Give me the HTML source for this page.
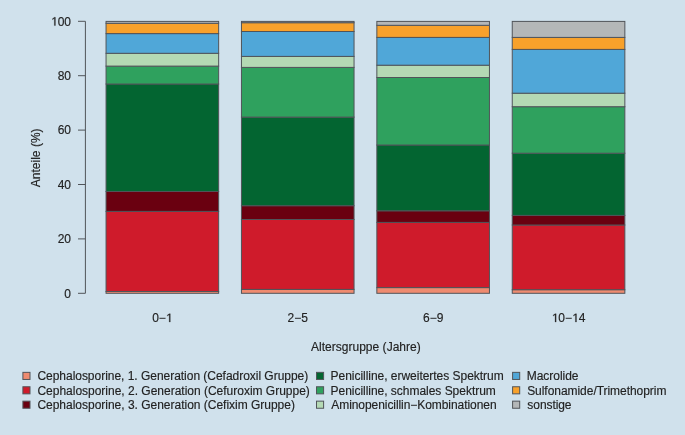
<!DOCTYPE html>
<html><head><meta charset="utf-8"><style>
html,body{margin:0;padding:0;background:#d0e1ec;}
svg{display:block;will-change:transform;}
text{font-family:"Liberation Sans",sans-serif;font-size:12px;fill:#222222;stroke:#222222;stroke-width:0.15px;}
</style></head><body>
<svg width="685" height="435" viewBox="0 0 685 435">
<rect x="0" y="0" width="685" height="435" fill="#d0e1ec"/>
<rect x="106.05" y="291.50" width="112.60" height="1.80" fill="#ef8b70" stroke="#505459" stroke-width="1"/>
<rect x="106.05" y="211.40" width="112.60" height="80.10" fill="#cf1b2b" stroke="#505459" stroke-width="1"/>
<rect x="106.05" y="191.50" width="112.60" height="19.90" fill="#6a0010" stroke="#505459" stroke-width="1"/>
<rect x="106.05" y="84.00" width="112.60" height="107.50" fill="#036531" stroke="#505459" stroke-width="1"/>
<rect x="106.05" y="66.10" width="112.60" height="17.90" fill="#2fa15e" stroke="#505459" stroke-width="1"/>
<rect x="106.05" y="53.30" width="112.60" height="12.80" fill="#b4d9b4" stroke="#505459" stroke-width="1"/>
<rect x="106.05" y="33.60" width="112.60" height="19.70" fill="#50a7d8" stroke="#505459" stroke-width="1"/>
<rect x="106.05" y="23.30" width="112.60" height="10.30" fill="#f8a12b" stroke="#505459" stroke-width="1"/>
<rect x="106.05" y="21.40" width="112.60" height="1.90" fill="#b4b7b8" stroke="#505459" stroke-width="1"/>
<rect x="241.45" y="289.40" width="112.60" height="3.90" fill="#ef8b70" stroke="#505459" stroke-width="1"/>
<rect x="241.45" y="219.50" width="112.60" height="69.90" fill="#cf1b2b" stroke="#505459" stroke-width="1"/>
<rect x="241.45" y="205.70" width="112.60" height="13.80" fill="#6a0010" stroke="#505459" stroke-width="1"/>
<rect x="241.45" y="117.10" width="112.60" height="88.60" fill="#036531" stroke="#505459" stroke-width="1"/>
<rect x="241.45" y="67.40" width="112.60" height="49.70" fill="#2fa15e" stroke="#505459" stroke-width="1"/>
<rect x="241.45" y="56.40" width="112.60" height="11.00" fill="#b4d9b4" stroke="#505459" stroke-width="1"/>
<rect x="241.45" y="31.50" width="112.60" height="24.90" fill="#50a7d8" stroke="#505459" stroke-width="1"/>
<rect x="241.45" y="22.70" width="112.60" height="8.80" fill="#f8a12b" stroke="#505459" stroke-width="1"/>
<rect x="241.45" y="21.40" width="112.60" height="1.30" fill="#b4b7b8" stroke="#505459" stroke-width="1"/>
<rect x="376.85" y="287.60" width="112.60" height="5.70" fill="#ef8b70" stroke="#505459" stroke-width="1"/>
<rect x="376.85" y="222.40" width="112.60" height="65.20" fill="#cf1b2b" stroke="#505459" stroke-width="1"/>
<rect x="376.85" y="210.80" width="112.60" height="11.60" fill="#6a0010" stroke="#505459" stroke-width="1"/>
<rect x="376.85" y="145.00" width="112.60" height="65.80" fill="#036531" stroke="#505459" stroke-width="1"/>
<rect x="376.85" y="77.50" width="112.60" height="67.50" fill="#2fa15e" stroke="#505459" stroke-width="1"/>
<rect x="376.85" y="65.20" width="112.60" height="12.30" fill="#b4d9b4" stroke="#505459" stroke-width="1"/>
<rect x="376.85" y="37.40" width="112.60" height="27.80" fill="#50a7d8" stroke="#505459" stroke-width="1"/>
<rect x="376.85" y="25.30" width="112.60" height="12.10" fill="#f8a12b" stroke="#505459" stroke-width="1"/>
<rect x="376.85" y="21.40" width="112.60" height="3.90" fill="#b4b7b8" stroke="#505459" stroke-width="1"/>
<rect x="512.25" y="289.70" width="112.60" height="3.60" fill="#ef8b70" stroke="#505459" stroke-width="1"/>
<rect x="512.25" y="225.00" width="112.60" height="64.70" fill="#cf1b2b" stroke="#505459" stroke-width="1"/>
<rect x="512.25" y="215.40" width="112.60" height="9.60" fill="#6a0010" stroke="#505459" stroke-width="1"/>
<rect x="512.25" y="153.20" width="112.60" height="62.20" fill="#036531" stroke="#505459" stroke-width="1"/>
<rect x="512.25" y="106.70" width="112.60" height="46.50" fill="#2fa15e" stroke="#505459" stroke-width="1"/>
<rect x="512.25" y="93.20" width="112.60" height="13.50" fill="#b4d9b4" stroke="#505459" stroke-width="1"/>
<rect x="512.25" y="49.40" width="112.60" height="43.80" fill="#50a7d8" stroke="#505459" stroke-width="1"/>
<rect x="512.25" y="37.40" width="112.60" height="12.00" fill="#f8a12b" stroke="#505459" stroke-width="1"/>
<rect x="512.25" y="21.40" width="112.60" height="16.00" fill="#b4b7b8" stroke="#505459" stroke-width="1"/>
<line x1="85.4" y1="21.3" x2="85.4" y2="293.3" stroke="#505459" stroke-width="1"/>
<line x1="78" y1="293.30" x2="85.4" y2="293.30" stroke="#505459" stroke-width="1"/>
<text x="64.33" y="297.60">0</text>
<line x1="78" y1="238.90" x2="85.4" y2="238.90" stroke="#505459" stroke-width="1"/>
<text x="57.65" y="243.20">20</text>
<line x1="78" y1="184.50" x2="85.4" y2="184.50" stroke="#505459" stroke-width="1"/>
<text x="57.65" y="188.80">40</text>
<line x1="78" y1="130.10" x2="85.4" y2="130.10" stroke="#505459" stroke-width="1"/>
<text x="57.65" y="134.40">60</text>
<line x1="78" y1="75.70" x2="85.4" y2="75.70" stroke="#505459" stroke-width="1"/>
<text x="57.65" y="80.00">80</text>
<line x1="78" y1="21.30" x2="85.4" y2="21.30" stroke="#505459" stroke-width="1"/>
<path transform="translate(50.98,25.60) scale(0.005859,-0.005859)" d="M575,0L575,1237L257,1010L257,1180L590,1409L756,1409L756,0Z" fill="#222222" stroke="#222222" stroke-width="45"/><text x="57.65" y="25.60">00</text>
<text x="152.17" y="322.00">0−</text><path transform="translate(165.85,322.00) scale(0.005859,-0.005859)" d="M575,0L575,1237L257,1010L257,1180L590,1409L756,1409L756,0Z" fill="#222222" stroke="#222222" stroke-width="45"/>
<text x="287.57" y="322.00">2−5</text>
<text x="422.97" y="322.00">6−9</text>
<path transform="translate(551.70,322.00) scale(0.005859,-0.005859)" d="M575,0L575,1237L257,1010L257,1180L590,1409L756,1409L756,0Z" fill="#222222" stroke="#222222" stroke-width="45"/><text x="558.37" y="322.00">0−</text><path transform="translate(572.05,322.00) scale(0.005859,-0.005859)" d="M575,0L575,1237L257,1010L257,1180L590,1409L756,1409L756,0Z" fill="#222222" stroke="#222222" stroke-width="45"/><text x="578.73" y="322.00">4</text>
<text x="310.98" y="350.60" textLength="109.77" lengthAdjust="spacing">Altersgruppe (Jahre)</text>
<text transform="translate(40.1,157.8) rotate(-90)" text-anchor="middle">Anteile (%)</text>
<rect x="22.90" y="372.35" width="7.1" height="7.1" fill="#ef8b70" stroke="#505459" stroke-width="1"/>
<text x="37.39" y="380.20" textLength="270.85" lengthAdjust="spacing">Cephalosporine, 1. Generation (Cefadroxil Gruppe)</text>
<rect x="22.90" y="386.75" width="7.1" height="7.1" fill="#cf1b2b" stroke="#505459" stroke-width="1"/>
<text x="37.39" y="394.60" textLength="272.45" lengthAdjust="spacing">Cephalosporine, 2. Generation (Cefuroxim Gruppe)</text>
<rect x="22.90" y="401.15" width="7.1" height="7.1" fill="#6a0010" stroke="#505459" stroke-width="1"/>
<text x="37.39" y="409.00" textLength="257.55" lengthAdjust="spacing">Cephalosporine, 3. Generation (Cefixim Gruppe)</text>
<rect x="316.50" y="372.35" width="7.1" height="7.1" fill="#036531" stroke="#505459" stroke-width="1"/>
<text x="330.52" y="380.20" textLength="173.18" lengthAdjust="spacing">Penicilline, erweitertes Spektrum</text>
<rect x="316.50" y="386.75" width="7.1" height="7.1" fill="#2fa15e" stroke="#505459" stroke-width="1"/>
<text x="330.52" y="394.60" textLength="165.28" lengthAdjust="spacing">Penicilline, schmales Spektrum</text>
<rect x="316.50" y="401.15" width="7.1" height="7.1" fill="#b4d9b4" stroke="#505459" stroke-width="1"/>
<text x="331.28" y="409.00" textLength="165.30" lengthAdjust="spacing">Aminopenicillin−Kombinationen</text>
<rect x="512.60" y="372.35" width="7.1" height="7.1" fill="#50a7d8" stroke="#505459" stroke-width="1"/>
<text x="526.72" y="380.20" textLength="51.82" lengthAdjust="spacing">Macrolide</text>
<rect x="512.60" y="386.75" width="7.1" height="7.1" fill="#f8a12b" stroke="#505459" stroke-width="1"/>
<text x="527.16" y="394.60" textLength="139.24" lengthAdjust="spacing">Sulfonamide/Trimethoprim</text>
<rect x="512.60" y="401.15" width="7.1" height="7.1" fill="#b4b7b8" stroke="#505459" stroke-width="1"/>
<text x="527.37" y="409.00" textLength="44.17" lengthAdjust="spacing">sonstige</text>
</svg></body></html>
